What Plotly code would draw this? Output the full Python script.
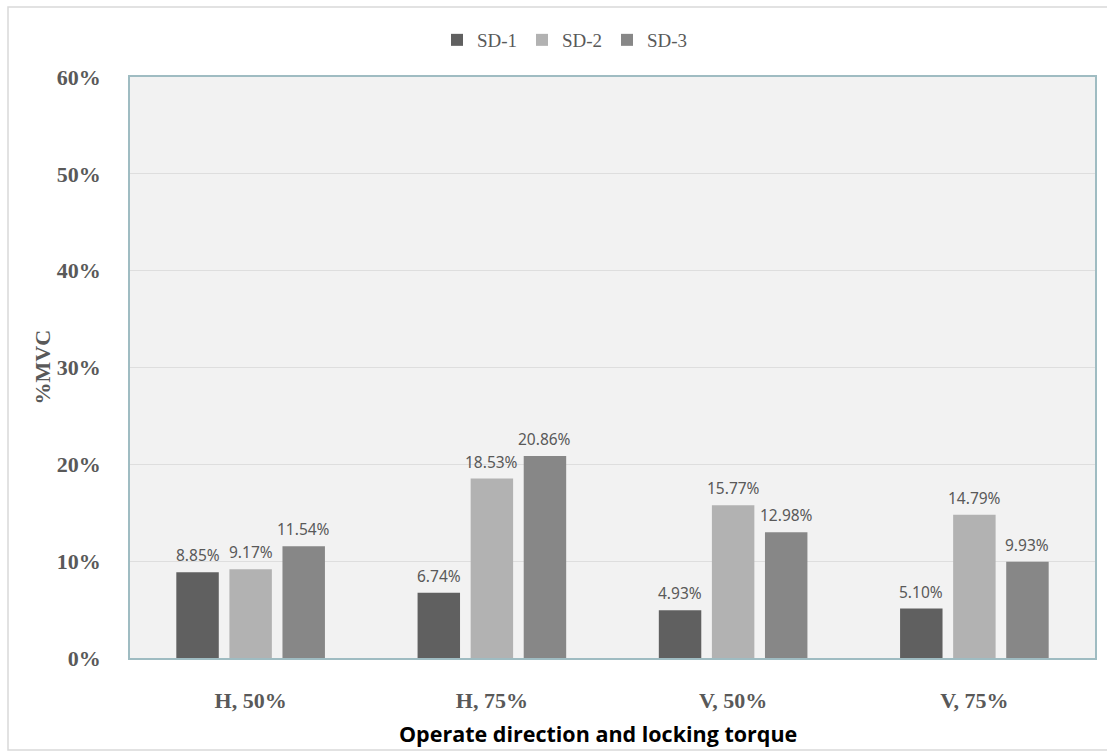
import plotly.graph_objects as go

categories = ["H, 50%", "H, 75%", "V, 50%", "V, 75%"]
series_names = ["SD-1", "SD-2", "SD-3"]
sd1 = [0.0885, 0.0674, 0.0493, 0.0510]
sd2 = [0.0917, 0.1853, 0.1577, 0.1479]
sd3 = [0.1154, 0.2086, 0.1298, 0.0993]
colors = ["#606060", "#b2b2b2", "#878787"]

W, H = 1107, 751
M_L, M_R, M_T, M_B = 130, 12, 77, 93
BARGAP, GROUPGAP = 0.34, 0.2

fig = go.Figure()
all_series = [sd1, sd2, sd3]
for name, vals, col in zip(series_names, all_series, colors):
    fig.add_trace(go.Bar(
        x=categories, y=vals, name=name,
        marker=dict(color=col, line=dict(width=0)),
        hoverinfo="skip",
    ))

# value labels above each bar
plot_w = W - M_L - M_R
plot_h = H - M_T - M_B
slot = plot_w / len(categories) * (1 - BARGAP) / len(series_names)
for i, vals in enumerate(all_series):
    dx = (i - (len(series_names) - 1) / 2) * slot
    for cat, v in zip(categories, vals):
        fig.add_annotation(
            x=cat, y=v, xref="x", yref="y",
            text=f"{v * 100:.2f}%", showarrow=False,
            xshift=dx, yshift=17, yanchor="middle",
            font=dict(family="Noto Sans", size=15.5, color="#595959"),
        )

# axis titles
fig.add_annotation(
    x=(598 - M_L) / plot_w, y=(H - M_B - 733) / plot_h, xref="paper", yref="paper",
    text="<b>Operate direction and locking torque</b>", showarrow=False,
    xanchor="center", yanchor="middle",
    font=dict(family="Open Sans", size=21.5, color="#000000"),
)
fig.add_annotation(
    x=(42 - M_L) / plot_w, y=0.5, xref="paper", yref="paper",
    text="<b>%MVC</b>", showarrow=False, textangle=-90,
    xanchor="center", yanchor="middle",
    font=dict(family="Liberation Serif", size=22, color="#595959"),
)

# light outer frame of the figure
fig.add_shape(
    type="rect", xref="paper", yref="paper",
    x0=(8 - M_L) / plot_w, x1=1.1,
    y0=(H - M_B - 750) / plot_h, y1=(H - M_B - 7) / plot_h,
    line=dict(color="#d9d9d9", width=1.5), layer="below",
)

fig.update_layout(
    width=W, height=H,
    margin=dict(l=M_L, r=M_R, t=M_T, b=M_B, autoexpand=False),
    paper_bgcolor="#ffffff",
    plot_bgcolor="#f2f2f2",
    barmode="group", bargap=BARGAP, bargroupgap=GROUPGAP,
    showlegend=True,
    legend=dict(
        orientation="h", x=(437 - M_L) / plot_w, xanchor="left",
        y=(H - M_B - 40) / plot_h, yanchor="middle",
        entrywidth=40, entrywidthmode="pixels",
        bgcolor="rgba(0,0,0,0)",
        font=dict(family="Liberation Serif", size=19, color="#595959"),
        itemclick=False, itemdoubleclick=False,
    ),
    xaxis=dict(
        type="category",
        showline=True, linecolor="#9fbcc2", linewidth=1.5, mirror=True,
        showgrid=False, ticks="", ticklabelstandoff=22,
        tickfont=dict(family="Liberation Serif", size=22, color="#595959", weight="bold"),
        automargin=False,
    ),
    yaxis=dict(
        range=[0, 0.6], dtick=0.1, tickformat=".0%",
        showline=True, linecolor="#9fbcc2", linewidth=1.5, mirror=True,
        showgrid=True, gridcolor="#dedede", gridwidth=1,
        zeroline=False, ticks="", ticklabelstandoff=23,
        tickfont=dict(family="Liberation Serif", size=22, color="#595959", weight="bold"),
        automargin=False,
    ),
)

fig.write_html("out.html")
